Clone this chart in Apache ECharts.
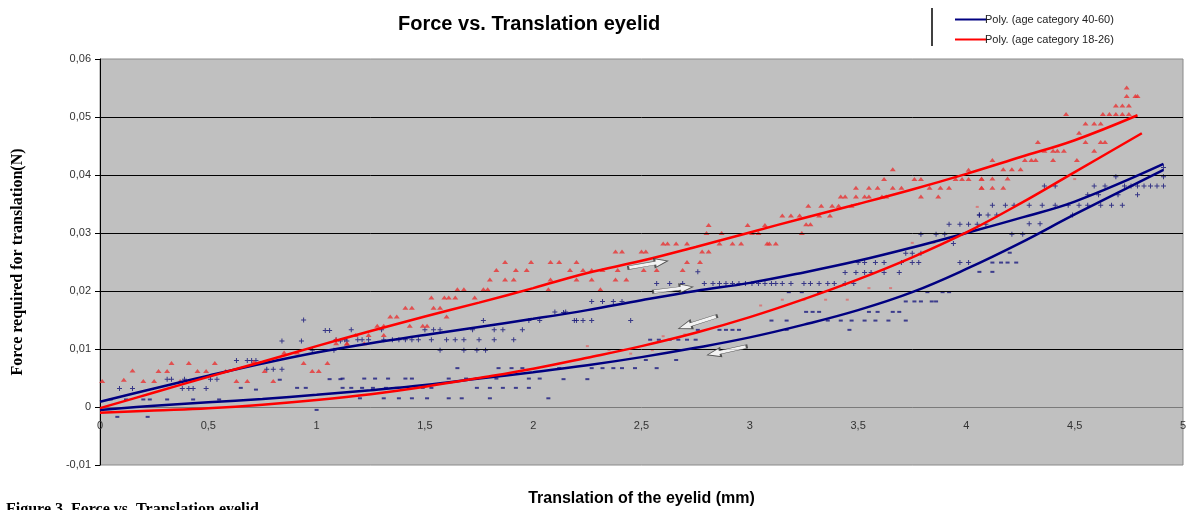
<!DOCTYPE html>
<html>
<head>
<meta charset="utf-8">
<title>Force vs. Translation eyelid</title>
<script src="https://cdn.jsdelivr.net/npm/echarts@6/dist/echarts.min.js"></script>
<style>
  html, body { margin: 0; padding: 0; background: #fff; }
  #main { width: 1191px; height: 510px; }
</style>
</head>
<body>
<div id="main"></div>
<script>
// tick values
const xTicks = [0, 0.5, 1, 1.5, 2, 2.5, 3, 3.5, 4, 4.5, 5]
const gridValues = [0.01, 0.02, 0.03, 0.04, 0.05]

// polynomial trend lines [translation mm, force N]
const redUpper = [[0, -0.0002], [0.25, 0.0025], [0.5, 0.0052], [0.75, 0.0078], [1, 0.0105], [1.25, 0.0131], [1.5, 0.0156], [1.75, 0.018], [2, 0.0205], [2.25, 0.0231], [2.5, 0.0252], [2.75, 0.0276], [3, 0.0301], [3.25, 0.0326], [3.5, 0.035], [3.75, 0.0375], [4, 0.0402], [4.25, 0.0431], [4.5, 0.046], [4.79, 0.0503]]
const redLower = [[0, -0.001], [0.25, -0.0006], [0.5, -0.0002], [0.75, 0.0004], [1, 0.0012], [1.25, 0.0022], [1.5, 0.0035], [1.75, 0.005], [2, 0.0066], [2.25, 0.0085], [2.5, 0.0105], [2.75, 0.0128], [3, 0.0155], [3.25, 0.0186], [3.5, 0.022], [3.75, 0.0258], [4, 0.0301], [4.25, 0.0351], [4.5, 0.0405], [4.81, 0.0472]]
const blueUpper = [[0, 0.0009], [0.25, 0.0032], [0.5, 0.0054], [0.75, 0.0075], [1, 0.0094], [1.25, 0.011], [1.5, 0.0124], [1.75, 0.0138], [2, 0.0152], [2.25, 0.0167], [2.5, 0.0184], [2.75, 0.02], [3, 0.0214], [3.25, 0.0232], [3.5, 0.0252], [3.75, 0.0275], [4, 0.03], [4.25, 0.0326], [4.5, 0.0354], [4.91, 0.0419]]
const blueLower = [[0, -0.0005], [0.25, 0.0002], [0.5, 0.0008], [0.75, 0.0014], [1, 0.0021], [1.25, 0.0029], [1.5, 0.0038], [1.75, 0.0049], [2, 0.006], [2.25, 0.0072], [2.5, 0.0086], [2.75, 0.0102], [3, 0.012], [3.25, 0.0142], [3.5, 0.0167], [3.75, 0.0198], [4, 0.0238], [4.25, 0.0283], [4.5, 0.0332], [4.91, 0.0409]]

// measured points, age 18-26 (triangles)
const redPoints = [[0.01, 0.0045], [0.11, 0.0047], [0.15, 0.0063], [0.2, 0.0045], [0.25, 0.0045], [0.27, 0.0062], [0.31, 0.0062], [0.33, 0.0076], [0.37, 0.0045], [0.41, 0.0076], [0.45, 0.0062], [0.49, 0.0062], [0.53, 0.0076], [0.58, 0.0062], [0.63, 0.0045], [0.68, 0.0045], [0.71, 0.0078], [0.76, 0.0062], [0.8, 0.0045], [0.85, 0.0094], [0.91, 0.0094], [0.94, 0.0076], [0.98, 0.0062], [1.01, 0.0062], [1.05, 0.0076], [1.09, 0.011], [1.14, 0.011],
  [1.09, 0.0117], [1.14, 0.0109], [1.18, 0.0124], [1.22, 0.011], [1.24, 0.0124], [1.28, 0.014], [1.31, 0.0124], [1.31, 0.014], [1.34, 0.0156], [1.37, 0.0156], [1.41, 0.0171], [1.43, 0.014], [1.44, 0.0171], [1.49, 0.014], [1.51, 0.014], [1.53, 0.0189], [1.54, 0.0171], [1.57, 0.0171], [1.6, 0.0156], [1.59, 0.0189], [1.61, 0.0189], [1.64, 0.0189], [1.65, 0.0203], [1.68, 0.0203], [1.73, 0.0189], [1.77, 0.0203], [1.79, 0.0203], [1.8, 0.022], [1.83, 0.0236], [1.87, 0.025], [1.87, 0.022], [1.91, 0.022], [1.92, 0.0236], [1.97, 0.0236], [1.99, 0.025], [2.07, 0.0203], [2.08, 0.022], [2.08, 0.025], [2.12, 0.025], [2.17, 0.0236], [2.2, 0.025],
  [2.2, 0.022], [2.23, 0.0236], [2.27, 0.0236], [2.27, 0.022], [2.32, 0.0236], [2.38, 0.0268], [2.41, 0.0268], [2.38, 0.022], [2.43, 0.022], [2.39, 0.0236], [2.5, 0.0268], [2.52, 0.0268], [2.51, 0.0236], [2.57, 0.0236], [2.6, 0.0282], [2.62, 0.0282], [2.66, 0.0282], [2.71, 0.0282], [2.71, 0.025], [2.69, 0.0236], [2.77, 0.025], [2.78, 0.0268], [2.81, 0.0268], [2.81, 0.0314], [2.8, 0.03], [2.87, 0.03], [2.86, 0.0282], [2.92, 0.0282], [2.96, 0.0282], [2.99, 0.0314], [3.01, 0.03], [3.04, 0.03], [3.08, 0.0282], [3.07, 0.0314], [3.12, 0.0282], [2.31, 0.0203],
  [3.66, 0.041], [3.62, 0.0393], [3.49, 0.0378], [3.55, 0.0378], [3.59, 0.0378], [3.66, 0.0378], [3.7, 0.0378], [3.76, 0.0393], [3.79, 0.0393], [3.83, 0.0378], [3.88, 0.0378], [3.92, 0.0378], [3.95, 0.0393], [3.98, 0.0393], [4.01, 0.0393], [4.01, 0.0409], [4.07, 0.0393], [4.07, 0.0378], [3.42, 0.0363], [3.44, 0.0363], [3.49, 0.0363], [3.53, 0.0363], [3.55, 0.0363], [3.61, 0.0363], [3.63, 0.0363], [3.79, 0.0363], [3.87, 0.0363], [3.27, 0.0347], [3.33, 0.0347], [3.38, 0.0347], [3.41, 0.0347], [3.47, 0.0347], [3.15, 0.033], [3.19, 0.033], [3.23, 0.033], [3.32, 0.033], [3.37, 0.033], [3.26, 0.0315], [3.28, 0.0315], [3.24, 0.03], [3.09, 0.0282],
  [4.74, 0.0551], [4.74, 0.0536], [4.78, 0.0536], [4.79, 0.0536], [4.69, 0.052], [4.72, 0.052], [4.75, 0.052], [4.46, 0.0505], [4.63, 0.0505], [4.66, 0.0505], [4.69, 0.0505], [4.72, 0.0505], [4.75, 0.0505], [4.55, 0.0489], [4.59, 0.0489], [4.62, 0.0489], [4.52, 0.0473], [4.33, 0.0457], [4.55, 0.0457], [4.62, 0.0457], [4.64, 0.0457], [4.36, 0.0442], [4.4, 0.0442], [4.42, 0.0442], [4.45, 0.0442], [4.59, 0.0442], [4.12, 0.0426], [4.27, 0.0426], [4.3, 0.0426], [4.32, 0.0426], [4.4, 0.0426], [4.51, 0.0426], [4.17, 0.041], [4.21, 0.041], [4.25, 0.041], [4.07, 0.0394], [4.12, 0.0394], [4.19, 0.0394], [4.07, 0.0378], [4.12, 0.0378], [4.17, 0.0378]]

// faint unloading points, age 18-26
const redReturn = [[2.25, 0.0105], [2.35, 0.0098], [2.45, 0.0092], [2.55, 0.0098], [2.6, 0.0122], [2.7, 0.0125], [3.05, 0.0175], [3.15, 0.0185], [3.25, 0.0185], [3.35, 0.0185], [3.45, 0.0185], [3.55, 0.0205], [3.65, 0.0205], [3.75, 0.0283], [3.85, 0.0283], [4.05, 0.0345], [4.5, 0.0393]]

// measured points, age 40-60 (loading, plus marks)
const bluePoints = [[0.09, 0.0032], [0.15, 0.0032], [0.31, 0.0048], [0.33, 0.0048], [0.39, 0.0048], [0.38, 0.0032], [0.41, 0.0032], [0.43, 0.0032], [0.49, 0.0032], [0.51, 0.0048], [0.54, 0.0048], [0.63, 0.008], [0.68, 0.008], [0.7, 0.008], [0.72, 0.008], [0.77, 0.0065], [0.8, 0.0065], [0.84, 0.0065], [0.84, 0.0114], [0.93, 0.0114], [0.94, 0.015], [0.98, 0.0098], [1.04, 0.0132], [1.06, 0.0132], [1.08, 0.0098], [1.11, 0.0114], [1.14, 0.0114],
  [1.09, 0.0116], [1.13, 0.0116], [1.16, 0.0133], [1.19, 0.0116], [1.21, 0.0116], [1.24, 0.0116], [1.3, 0.0133], [1.31, 0.0116], [1.35, 0.0116], [1.38, 0.0116], [1.41, 0.0116], [1.44, 0.0116], [1.47, 0.0116], [1.5, 0.0133], [1.53, 0.0116], [1.54, 0.0133], [1.57, 0.0133], [1.6, 0.0116], [1.64, 0.0116], [1.68, 0.0116], [1.72, 0.0133], [1.75, 0.0116], [1.77, 0.0149], [1.82, 0.0133], [1.86, 0.0133], [1.82, 0.0116], [1.91, 0.0116], [1.95, 0.0133], [1.98, 0.0149], [2.03, 0.0149], [2.1, 0.0164], [2.15, 0.0164], [2.2, 0.0149], [1.57, 0.0098], [1.68, 0.0098], [1.74, 0.0098], [1.78, 0.0098],
  [2.57, 0.0213], [2.63, 0.0213], [2.69, 0.0213], [2.76, 0.0233], [2.79, 0.0213], [2.83, 0.0213], [2.86, 0.0213], [2.89, 0.0213], [2.92, 0.0213], [2.95, 0.0213], [2.98, 0.0213], [3.01, 0.0213], [3.04, 0.0213], [3.07, 0.0213], [3.1, 0.0213], [2.27, 0.0182], [2.32, 0.0182], [2.37, 0.0182], [2.41, 0.0182], [2.14, 0.0163], [2.19, 0.0149], [2.23, 0.0149], [2.27, 0.0149], [2.45, 0.0149],
  [3.92, 0.0315], [3.97, 0.0315], [4.01, 0.0315], [4.05, 0.0315], [4.09, 0.0315], [4.06, 0.0331], [3.72, 0.0265], [3.75, 0.0265], [3.79, 0.0265], [3.5, 0.0249], [3.53, 0.0249], [3.58, 0.0249], [3.62, 0.0249], [3.7, 0.0249], [3.75, 0.0249], [3.78, 0.0249], [3.44, 0.0232], [3.49, 0.0232], [3.53, 0.0232], [3.56, 0.0232], [3.62, 0.0232], [3.69, 0.0232], [3.12, 0.0213], [3.15, 0.0213], [3.19, 0.0213], [3.25, 0.0213], [3.28, 0.0213], [3.32, 0.0213], [3.36, 0.0213], [3.39, 0.0213], [3.44, 0.0213], [3.48, 0.0213], [3.79, 0.0298], [3.86, 0.0298], [3.9, 0.0298], [3.94, 0.0282], [3.97, 0.0249], [4.01, 0.0249],
  [4.69, 0.0397], [4.73, 0.0381], [4.76, 0.0381], [4.79, 0.0381], [4.82, 0.0381], [4.85, 0.0381], [4.88, 0.0381], [4.91, 0.0381], [4.91, 0.0397], [4.91, 0.0413], [4.36, 0.0381], [4.41, 0.0381], [4.59, 0.0381], [4.64, 0.0381], [4.12, 0.0348], [4.18, 0.0348], [4.22, 0.0348], [4.29, 0.0348], [4.35, 0.0348], [4.41, 0.0348], [4.47, 0.0348], [4.52, 0.0348], [4.56, 0.0348], [4.62, 0.0348], [4.67, 0.0348], [4.72, 0.0348], [4.06, 0.0331], [4.1, 0.0331], [4.14, 0.0331], [4.29, 0.0316], [4.34, 0.0316], [4.21, 0.0298], [4.26, 0.0298], [4.49, 0.0331], [4.56, 0.0366], [4.61, 0.0366], [4.79, 0.0366], [4.7, 0.0366]]

// measured points, age 40-60 (unloading, small dashes)
const blueReturn = [[0.05, 0.0013], [0.12, 0.0013], [0.2, 0.0013], [0.23, 0.0013], [0.31, 0.0013], [0.43, 0.0013], [0.55, 0.0013], [0.65, 0.0033], [0.72, 0.003], [0.83, 0.0047], [0.91, 0.0033], [0.95, 0.0033], [1.06, 0.0048], [1.11, 0.0048], [0.08, -0.0017], [0.22, -0.0017], [1.0, -0.0005],
  [1.12, 0.0049], [1.22, 0.0049], [1.27, 0.0049], [1.33, 0.0049], [1.41, 0.0049], [1.44, 0.0049], [1.61, 0.0049], [1.65, 0.0067], [1.69, 0.0049], [1.74, 0.0049], [1.83, 0.0049], [1.84, 0.0067], [1.9, 0.0067], [1.95, 0.0067], [1.98, 0.0049], [2.03, 0.0049], [1.12, 0.0033], [1.16, 0.0033], [1.21, 0.0033], [1.26, 0.0033], [1.32, 0.0033], [1.37, 0.0033], [1.49, 0.0033], [1.53, 0.0033], [1.74, 0.0033], [1.8, 0.0033], [1.86, 0.0033], [1.92, 0.0033], [1.2, 0.0015], [1.31, 0.0015], [1.38, 0.0015], [1.44, 0.0015], [1.51, 0.0015], [1.61, 0.0015], [1.67, 0.0015], [1.8, 0.0015], [2.07, 0.0015], [1.98, 0.0033], [2.12, 0.0067],
  [2.54, 0.0116], [2.58, 0.0116], [2.63, 0.0116], [2.67, 0.0116], [2.71, 0.0116], [2.75, 0.0116], [2.89, 0.0133], [2.92, 0.0133], [2.52, 0.0081], [2.66, 0.0081], [2.27, 0.0067], [2.32, 0.0067], [2.37, 0.0067], [2.41, 0.0067], [2.47, 0.0067], [2.57, 0.0067], [2.14, 0.0048], [2.25, 0.0048], [2.76, 0.0133], [2.86, 0.0133], [2.95, 0.0133],
  [3.72, 0.0182], [3.76, 0.0182], [3.79, 0.0182], [3.84, 0.0182], [3.86, 0.0182], [3.18, 0.0198], [3.24, 0.0198], [3.32, 0.0198], [3.82, 0.0198], [3.89, 0.0198], [3.92, 0.0198], [3.26, 0.0164], [3.29, 0.0164], [3.32, 0.0164], [3.55, 0.0164], [3.59, 0.0164], [3.66, 0.0164], [3.69, 0.0164], [3.1, 0.0149], [3.17, 0.0149], [3.36, 0.0149], [3.42, 0.0149], [3.47, 0.0149], [3.53, 0.0149], [3.58, 0.0149], [3.64, 0.0149], [3.72, 0.0149], [3.17, 0.0133], [3.46, 0.0133],
  [4.12, 0.0249], [4.16, 0.0249], [4.19, 0.0249], [4.23, 0.0249], [4.06, 0.0233], [4.12, 0.0233], [4.2, 0.0266]]

// direction arrows: [x, y, rotation deg]
const arrows = [[2.53, 0.0246, 10], [2.645, 0.0203, 7], [2.76, 0.0146, 198], [2.895, 0.0097, 192]]

const blueName = 'Poly. (age category 40-60)'
const redName = 'Poly. (age category 18-26)'

const chart = echarts.init(document.getElementById('main'))

const commaFmt = v => String(Math.round(v * 1000) / 1000).replace('.', ',')

const trend = (name, data, color) => ({
  name: name,
  type: 'line',
  data: data,
  smooth: 0.4,
  symbol: 'none',
  lineStyle: { color: color, width: 2.5 },
  itemStyle: { color: color },
  z: 5
})

const option = {
  backgroundColor: '#ffffff',
  animation: false,
  title: {
    text: 'Force vs. Translation eyelid',
    left: 393,
    top: 9,
    textStyle: { fontFamily: 'Liberation Sans, Arial', fontSize: 20, fontWeight: 'bold', color: '#000' }
  },
  legend: {
    data: [blueName, redName],
    orient: 'vertical',
    left: 950,
    top: 9,
    itemWidth: 32,
    itemHeight: 2,
    itemGap: 9,
    icon: 'rect',
    textStyle: { fontFamily: 'Liberation Sans, Arial', fontSize: 11, color: '#222', padding: [0, 0, 0, -7] }
  },
  grid: {
    left: 100,
    right: 8,
    top: 59,
    bottom: 45,
    outerBoundsMode: 'none',
    show: true,
    backgroundColor: '#c0c0c0',
    borderColor: '#8a8a8a',
    borderWidth: 1
  },
  xAxis: {
    type: 'value',
    min: 0,
    max: 5,
    interval: 0.5,
    name: 'Translation of the eyelid (mm)',
    nameLocation: 'middle',
    nameGap: 26,
    nameTextStyle: { fontFamily: 'Liberation Sans, Arial', fontSize: 16, fontWeight: 'bold', color: '#000' },
    axisLine: { onZero: false, show: false },
    axisTick: { show: false },
    splitLine: { show: false },
    axisLabel: {
      formatter: commaFmt,
      fontFamily: 'Liberation Sans, Arial',
      fontSize: 11,
      color: '#333',
      margin: -45,
      showMaxLabel: true,
      customValues: xTicks
    }
  },
  yAxis: {
    type: 'value',
    min: -0.01,
    max: 0.06,
    interval: 0.01,
    name: 'Force required for translation(N)',
    nameLocation: 'middle',
    nameGap: 74,
    nameTextStyle: { fontFamily: 'Liberation Serif, Times New Roman', fontSize: 16, fontWeight: 'bold', color: '#000' },
    axisLine: { show: true, lineStyle: { color: '#000', width: 1 } },
    axisTick: { show: true, length: 5, lineStyle: { color: '#000' } },
    splitLine: { show: false },
    axisLabel: {
      formatter: v => (Math.abs(v) < 1e-9 ? '0' : v.toFixed(2).replace('.', ',')),
      fontFamily: 'Liberation Sans, Arial',
      fontSize: 11,
      color: '#333',
      margin: 9
    }
  },
  graphic: [
    {
      type: 'line',
      shape: { x1: 932, y1: 8, x2: 932, y2: 46 },
      style: { stroke: '#000', lineWidth: 1.5 }
    },
    {
      type: 'text',
      left: 6,
      top: 502,
      style: {
        text: 'Figure 3. Force vs. Translation eyelid',
        font: 'bold 16px "Liberation Serif", "Times New Roman"',
        fill: '#000'
      }
    }
  ],
  series: [
    {
      name: 'grid',
      type: 'line',
      data: [],
      markLine: {
        silent: true,
        symbol: 'none',
        label: { show: false },
        lineStyle: { color: '#000', width: 1, type: 'solid' },
        data: gridValues.map(v => ({ yAxis: v })).concat([{ yAxis: 0, lineStyle: { color: '#7a7a7a', width: 1, type: 'solid' } }])
      }
    },
    {
      name: 'red return',
      type: 'scatter',
      data: redReturn,
      symbol: 'rect',
      symbolSize: [3, 2],
      itemStyle: { color: '#e06060', opacity: 0.7 }
    },
    {
      name: 'blue return',
      type: 'scatter',
      data: blueReturn,
      symbol: 'rect',
      symbolSize: [4, 2],
      itemStyle: { color: '#1a1a80' }
    },
    {
      name: 'blue points',
      type: 'scatter',
      data: bluePoints,
      symbol: 'path://M0,4H10V6H0Z M4,0H6V10H4Z',
      symbolSize: 5,
      itemStyle: { color: '#141478' }
    },
    {
      name: 'red points',
      type: 'scatter',
      data: redPoints,
      symbol: 'triangle',
      symbolSize: [6, 4],
      itemStyle: { color: '#e83232' }
    },
    trend(blueName, blueUpper, '#000080'),
    trend(blueName, blueLower, '#000080'),
    trend(redName, redUpper, '#ff0000'),
    trend(redName, redLower, '#ff0000'),
    {
      name: 'arrows',
      type: 'scatter',
      data: arrows.map(a => ({ value: [a[0], a[1]], symbolRotate: a[2] })),
      symbol: 'path://M0,3L27,3L27,0L40,5L27,10L27,7L0,7Z',
      symbolSize: [40, 9],
      itemStyle: { color: '#ffffff', borderColor: '#333', borderWidth: 1 },
      z: 10
    }
  ]
}

chart.setOption(option)
</script>
</body>
</html>
